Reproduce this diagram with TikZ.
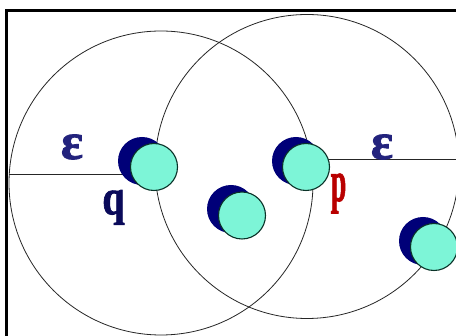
\documentclass[tikz,border=0pt]{standalone}
\usepackage{fontspec}
\setmainfont{Liberation Serif}
\newfontfamily\heavyfont[FakeBold=1.6]{Liberation Serif Bold}
\definecolor{navy}{RGB}{0,0,120}
\definecolor{aqua}{RGB}{125,245,215}
\definecolor{rimc}{RGB}{10,50,40}
\definecolor{epsc}{RGB}{35,35,125}
\definecolor{qcol}{RGB}{10,10,90}
\definecolor{pcol}{RGB}{185,0,0}
\tikzset{
  bigring/.style={circle, draw=black!85, line width=0.8pt, minimum size=304pt, inner sep=0pt},
  shadowball/.style={circle, fill=navy, minimum size=48pt, inner sep=0pt},
  ball/.style={circle, fill=aqua, draw=rimc, line width=1.1pt, minimum size=47pt, inner sep=0pt},
  radius line/.style={draw=black!85, line width=0.9pt},
  lbl/.style={inner sep=0pt}
}
\begin{document}
\begin{tikzpicture}[x=1pt,y=-1pt]
\useasboundingbox (0,0) rectangle (456,336);
\fill[white] (0,0) rectangle (456,336);
% frame
\draw[line width=2.2pt] (6.5,340) -- (6.5,10.5) -- (460,10.5);
% big circles
\node[bigring] (C1) at (161,183) {};
\node[bigring] (C2) at (307,166.5) {};
% radius lines (drawn before the particles)
\coordinate (L) at (9.3,174);
\coordinate (R) at (459,159);
\coordinate (qc) at (142,174);
\coordinate (pc) at (306,159);
\draw[radius line] (L) -- (qc);
\draw[radius line] (R) -- (pc);
% particle shadows and balls
\node[shadowball] (qd) at (142,161) {};
\node[shadowball] (pd) at (296,161) {};
\node[shadowball] (md) at (231,209) {};
\node[shadowball] (rd) at (423,241) {};
\node[ball] (q) at (154,167) {};
\node[ball] (p) at (306,167) {};
\node[ball] (m) at (242,215.5) {};
\node[ball] (r) at (434,247) {};
% labels
\node[lbl, text=epsc, font=\heavyfont\fontsize{52}{54}\selectfont] (e1) at (72,147) {ε};
\node[lbl, text=epsc, font=\heavyfont\fontsize{52}{54}\selectfont] (e2) at (382,147) {ε};
\node[lbl, text=qcol, font=\heavyfont\fontsize{40}{42}\selectfont] (ql) at (113.5,207.5) {\scalebox{1}[1.25]{q}};
\node[lbl, text=pcol, font=\heavyfont\fontsize{40}{42}\selectfont] (pl) at (338.5,193.5) {\scalebox{0.7}[1.45]{p}};
\end{tikzpicture}
\end{document}
